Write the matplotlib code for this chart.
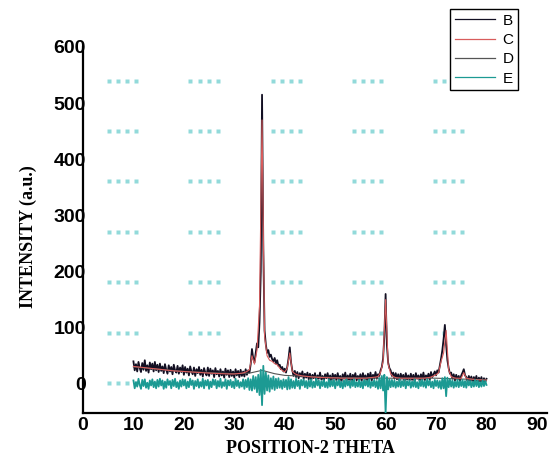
import matplotlib.pyplot as plt
import numpy as np

# 2-theta grids (measured scan at 0.25 deg, fit at 0.5 deg)
two_theta = np.arange(10, 80.001, 0.25)
fit_theta = np.arange(10, 80.001, 0.5)

# B: measured pattern, rows of 5 deg
b_counts = [
    40, 24, 35, 22, 39, 28, 21, 37, 25, 42, 23, 33, 20, 38, 26, 36, 22, 39, 24, 34,
    21, 36, 23, 31, 19, 35, 25, 18, 33, 22, 30, 17, 34, 24, 20, 32, 18, 29, 21, 33,
    16, 30, 20, 27, 15, 31, 22, 17, 29, 14, 26, 19, 30, 16, 25, 13, 28, 20, 15, 29,
    14, 27, 18, 24, 12, 28, 17, 23, 13, 26, 15, 22, 11, 27, 16, 24, 12, 25, 14, 22,
    11, 26, 15, 23, 12, 25, 14, 22, 13, 26, 16, 24, 20, 35, 62, 45, 38, 55, 72, 65,
    110, 200, 515, 240, 95, 70, 55, 60, 48, 52, 44, 40, 46, 36, 42, 32, 34, 26, 30, 22,
    27, 20, 30, 45, 65, 38, 24, 14, 23, 12, 21, 10, 19, 13, 22, 9, 18, 11, 20, 8,
    18, 7, 16, 10, 19, 6, 15, 9, 20, 8, 14, 5, 17, 10, 19, 7, 15, 4, 18, 9,
    16, 6, 19, 8, 14, 4, 17, 9, 20, 5, 15, 7, 18, 3, 16, 10, 19, 6, 14, 8,
    17, 5, 19, 9, 15, 4, 18, 8, 20, 6, 16, 10, 21, 9, 17, 14, 24, 30, 45, 85,
    160, 70, 38, 28, 24, 14, 20, 9, 19, 8, 17, 5, 18, 9, 16, 4, 19, 8, 15, 6,
    18, 7, 16, 4, 19, 9, 15, 5, 17, 8, 20, 6, 15, 10, 18, 7, 21, 12, 17, 22,
    15, 24, 20, 32, 45, 60, 80, 105, 70, 42, 28, 18, 20, 9, 17, 6, 16, 8, 14, 5,
    15, 20, 26, 15, 12, 4, 14, 6, 13, 3, 12, 5, 14, 2, 11, 4, 12, 1, 10, 3,
    9,
]

# C: calculated (fit)
c_counts = [
    31, 30.5, 30, 29.5, 29, 28.5, 28, 27.5, 27, 26.5,
    26, 25.5, 25, 24.5, 24, 23.5, 23, 22.8, 22.5, 22.2,
    22, 21.7, 21.4, 21, 20.7, 20.4, 20.1, 19.8, 19.5, 19.2,
    19, 18.8, 18.6, 18.4, 18.2, 18, 17.8, 17.6, 17.5, 17.5,
    17.5, 18, 18.5, 19, 20, 22, 25, 50, 35, 60,
    140, 470, 85, 50, 42, 40, 36, 34, 28, 24,
    21, 28, 55, 22, 18, 16, 15, 14, 13.5, 13,
    12.5, 12, 12, 11.5, 11.5, 11, 11, 11, 10.5, 10.5,
    10.5, 10.5, 10, 10, 10, 10, 10, 10, 10, 10,
    10, 10, 10, 10.5, 11, 11.5, 12, 13, 20, 40,
    150, 35, 18, 13, 11, 10.5, 10, 10, 10, 10,
    10, 10, 10, 10, 10, 10, 10.5, 11, 12, 14,
    16, 20, 40, 55, 95, 25, 13, 11, 10, 10,
    10, 20, 10, 9, 8.5, 8, 7.5, 7, 7, 6.5,
    6.5,
]

# D: background
d_theta = [10, 20, 30, 33, 35.5, 38, 40, 50, 60, 70, 80]
d_counts = [30, 22, 18, 19, 24, 18, 15, 11, 10, 10, 7]

# E: difference, rows of 5 deg
e_counts = [
    6, -8, 3, -5, 9, -2, -9, 7, -4, 8, -7, 2, -9, 6, -3, 8, -6, 4, -8, 7,
    -5, 9, -3, 6, -9, 4, -7, 8, -2, 5, -8, 7, -4, 9, -6, 3, -9, 6, -5, 8,
    -3, 7, -8, 4, -6, 9, -2, 6, -9, 5, -4, 8, -7, 3, -5, 9, -8, 6, -3, 7,
    -9, 4, -6, 8, -2, 7, -8, 5, -5, 9, -7, 3, -4, 8, -9, 6, -3, 7, -6, 4,
    -8, 9, -4, 6, -7, 3, -5, 8, -9, 7, -6, 10, -11, 8, -12, 14, -9, 12, -15, 16,
    -20, 25, -38, 32, -18, 20, -12, 15, -14, 10, -9, 13, -11, 9, -8, 10, -7, 6, -9, 8,
    -6, 7, -10, 12, -9, 8, -7, 5, -8, 9, -4, 6, -9, 7, -3, 8, -6, 5, -8, 6,
    -5, 8, -7, 4, -6, 9, -3, 6, -8, 5, -4, 7, -6, 3, -7, 8, -5, 6, -4, 7,
    -8, 5, -3, 7, -6, 4, -8, 6, -5, 8, -3, 5, -7, 6, -4, 8, -6, 3, -5, 7,
    -6, 4, -8, 7, -3, 6, -5, 8, -7, 4, -4, 7, -6, 5, -9, 10, -8, 14, -12, 16,
    -52, 12, -10, 8, -6, 7, -5, 6, -7, 4, -5, 8, -6, 5, -4, 7, -8, 5, -3, 6,
    -7, 4, -5, 8, -6, 3, -8, 6, -4, 7, -5, 5, -7, 8, -3, 6, -6, 4, -8, 7,
    -4, 6, -7, 5, -9, 10, -8, 12, -22, 11, -6, 8, -5, 6, -7, 4, -5, 7, -6, 5,
    -4, 7, -6, 5, -7, 6, -3, 5, -6, 4, -5, 7, -4, 6, -6, 3, -5, 6, -4, 5,
    -2,
]

# faint cyan dot grid left over in the original figure
dot_cols = [5.1, 21.3, 37.6, 53.7, 69.8]
dot_offsets = [0, 1.8, 3.6, 5.4]
dot_rows = [2, 91, 181, 271, 361, 450, 540]

x_ticks = [0, 10, 20, 30, 40, 50, 60, 70, 80, 90]
y_ticks = [0, 100, 200, 300, 400, 500, 600]

W, H = 552, 461


def plot_pattern():
    fig = plt.figure(figsize=(W / 100, H / 100), dpi=100)
    ax = fig.add_axes([83 / W, 1 - 413 / H, 464 / W, 366 / H])

    dx = [c + o for c in dot_cols for o in dot_offsets]
    gx, gy = np.meshgrid(dx, dot_rows)
    ax.plot(gx.ravel(), gy.ravel(), 's', ms=2.4, color='#92dada',
            mec='none', zorder=1)

    ax.plot(two_theta, b_counts, color='#120f22', lw=1.3, label='B', zorder=2)
    ax.plot(fit_theta, c_counts, color='#d85c5c', lw=0.8, label='C', zorder=3)
    ax.plot(d_theta, d_counts, color='#555555', lw=0.8, label='D', zorder=2)
    ax.plot(two_theta, e_counts, color='#1c9a93', lw=1.3, label='E', zorder=4)

    ax.set_xlim(0, 92)
    ax.set_ylim(-52, 600)
    ax.set_xticks(x_ticks)
    ax.set_yticks(y_ticks)
    for s in ['top', 'right']:
        ax.spines[s].set_visible(False)
    for s in ['left', 'bottom']:
        ax.spines[s].set_linewidth(1.6)
    ax.tick_params(length=0, labelsize=14)
    ax.tick_params(axis='y', pad=-2)
    ax.tick_params(axis='x', pad=3)
    for lab in ax.get_xticklabels() + ax.get_yticklabels():
        lab.set_fontweight('bold')
        lab.set_family('Liberation Sans')

    fig.text(310 / W, 1 - 448 / H, 'POSITION-2 THETA', ha='center',
             va='center', family='Liberation Serif', weight='bold', fontsize=13)
    fig.text(28 / W, 1 - 237 / H, 'INTENSITY (a.u.)', ha='center',
             va='center', rotation=90, family='Liberation Serif',
             weight='bold', fontsize=13)

    leg = fig.legend(loc='upper right', bbox_to_anchor=(518 / W, 1 - 9 / H),
                     fancybox=False, edgecolor='black', framealpha=1,
                     prop={'family': 'Liberation Sans', 'size': 11},
                     handlelength=2.6, handletextpad=0.5, borderpad=0.3,
                     labelspacing=0.35, borderaxespad=0)
    leg.get_frame().set_linewidth(1.0)
    for line in leg.get_lines():
        line.set_linewidth(0.9)

    fig.savefig('out.png', dpi=100)


def main():
    plot_pattern()


if __name__ == '__main__':
    main()
